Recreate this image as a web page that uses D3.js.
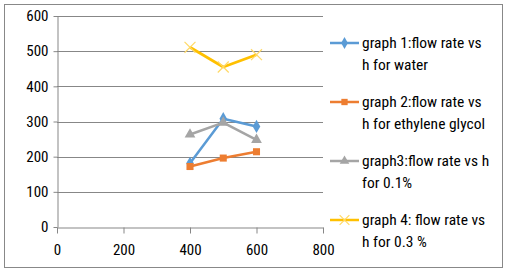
<!DOCTYPE html>
<html>
<head>
<meta charset="utf-8">
<script src="https://cdn.jsdelivr.net/npm/d3@7"></script>
<style>
  body { margin: 0; background: #fff; }
  text { font-family: "Liberation Sans Narrow", "Arial Narrow", "Roboto Condensed", sans-serif; fill: #000; }
</style>
</head>
<body>
<div id="chart"></div>
<script>
var hValues = [400, 500, 600];
var water = [181, 308, 286];
var ethyleneGlycol = [172, 196, 214];
var conc01 = [263, 297, 248];
var conc03 = [511, 455, 490];
var xTicks = [0, 200, 400, 600, 800];
var yTicks = [0, 100, 200, 300, 400, 500, 600];

var seriesList = [
    {name: ["graph 1:flow rate vs", "h for water"], values: water, color: '#5B9BD5', symbol: d3.symbolDiamond},
    {name: ["graph 2:flow rate vs", "h for ethylene glycol"], values: ethyleneGlycol, color: '#ED7D31', symbol: d3.symbolSquare},
    {name: ["graph3:flow rate vs h", "for 0.1%"], values: conc01, color: '#A5A5A5', symbol: d3.symbolTriangle},
    {name: ["graph 4: flow rate vs", "h for 0.3 %"], values: conc03, color: '#FFC000', symbol: d3.symbolTimes}
];

var W = 511, H = 272;
var margin = {top: 16, left: 57},
    width = 323 - margin.left,
    height = 227 - margin.top;

var root = d3.select('#chart')
    .append('svg')
    .attr('width', W)
    .attr('height', H);

// outer border
root.append('rect')
    .attr('x', 4.5).attr('y', 4.5)
    .attr('width', 498).attr('height', 263)
    .attr('fill', 'none')
    .attr('stroke', '#888')
    .attr('stroke-width', 1);

var svg = root.append('g')
    .attr('transform', 'translate(' + margin.left + ',' + margin.top + ')');

var xScale = d3.scaleLinear().domain([0, 800]).range([0, width]);
var yScale = d3.scaleLinear().domain([0, 600]).range([height, 0]);

// gridlines
svg.append('g')
    .selectAll('line')
    .data(yTicks.slice(1))
    .enter().append('line')
    .attr('x1', 0).attr('x2', width)
    .attr('y1', function (d) { return Math.round(yScale(d)) + 0.5; })
    .attr('y2', function (d) { return Math.round(yScale(d)) + 0.5; })
    .attr('stroke', '#878787')
    .attr('stroke-width', 1);

// X-axis
var xAxis = svg.append('g')
    .attr('transform', 'translate(0,' + (Math.round(height) + 0.5) + ')')
    .call(d3.axisBottom(xScale).tickValues(xTicks).tickSizeInner(6).tickSizeOuter(0).tickPadding(8));
// Y-axis
var yAxis = svg.append('g')
    .attr('transform', 'translate(0.5,0)')
    .call(d3.axisLeft(yScale).tickValues(yTicks).tickSizeInner(4).tickSizeOuter(0).tickPadding(5));

[xAxis, yAxis].forEach(function (ax) {
    ax.selectAll('path, line').attr('stroke', '#878787');
    ax.selectAll('text').style('font-size', '15px').attr('fill', '#000');
});
xAxis.selectAll('text').attr('dy', '0.9em');

var line = d3.line()
    .x(function (d, i) { return xScale(hValues[i]); })
    .y(function (d) { return yScale(d); });

function markerStyle(sel, s, size) {
    var isX = s.symbol === d3.symbolTimes;
    sel.attr('d', d3.symbol().type(s.symbol).size(isX ? size * 1.6 : size))
        .attr('fill', isX ? 'none' : s.color)
        .attr('stroke', isX ? '#FFD966' : 'none')
        .attr('stroke-width', isX ? 1.2 : 0);
}

seriesList.forEach(function (s) {
    svg.append('path')
        .datum(s.values)
        .attr('fill', 'none')
        .attr('stroke', s.color)
        .attr('stroke-width', s.symbol === d3.symbolTimes ? 2.75 : 2.5)
        .attr('stroke-linejoin', 'round')
        .attr('d', line);
    svg.selectAll(null)
        .data(s.values)
        .enter().append('path')
        .attr('transform', function (d, i) {
            return 'translate(' + xScale(hValues[i]) + ',' + yScale(d) + ')';
        })
        .call(markerStyle, s, 50);
});

// legend
var legend = root.selectAll('.legend')
    .data(seriesList)
    .enter().append('g')
    .attr('class', 'legend')
    .attr('transform', function (d, i) { return 'translate(330,' + (43 + i * 59) + ')'; });

legend.append('line')
    .attr('x1', 0).attr('x2', 29)
    .attr('y1', 0).attr('y2', 0)
    .attr('stroke', function (d) { return d.color; })
    .attr('stroke-width', 2.5);

legend.each(function (d) {
    d3.select(this).append('path')
        .attr('transform', 'translate(14.5,0)')
        .call(markerStyle, d, 40);
});

legend.append('text')
    .attr('x', 32)
    .attr('y', 0)
    .style('font-size', '15.5px')
    .selectAll('tspan')
    .data(function (d) { return d.name; })
    .enter().append('tspan')
    .attr('x', 32)
    .attr('dy', function (d, i) { return i === 0 ? '0.35em' : '1.4em'; })
    .text(function (d) { return d; });
</script>
</body>
</html>
